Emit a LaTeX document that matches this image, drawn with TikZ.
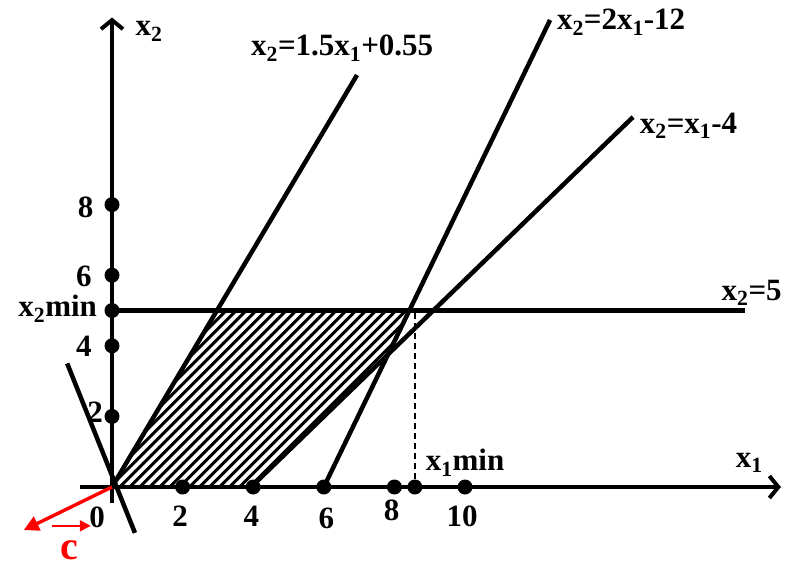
\documentclass[tikz,border=0pt]{standalone}
\usepackage{fontspec}
\setmainfont{Liberation Serif}
\usetikzlibrary{arrows.meta,intersections}
\tikzset{
  gAxis/.style={line width=4pt,-{Straight Barb[length=9pt,width=22pt]}},
  gLine/.style={line width=4.5pt},
  gDash/.style={line width=1.3pt,dash pattern=on 6pt off 4pt},
  gRed/.style={draw=red,line width=3.4pt,-{Triangle[length=15pt,width=15pt]}},
  gDot/.style={circle,fill=black,inner sep=0pt,minimum size=15pt},
  gLbl/.style={font=\fontsize{31}{33}\selectfont\bfseries,inner sep=0pt},
  gHatch/.style={line width=3pt},
}
\newcommand{\xs}[1]{x\textsubscript{#1}}
\begin{document}
\begin{tikzpicture}[x=35.3pt,y=35.3pt]
\useasboundingbox (-3.173,-2.295) rectangle (19.093,13.796);
% end points of the lines
\coordinate (O)  at (0,0);
\coordinate (a1) at (6.94,11.67);
\coordinate (b0) at (6,0);
\coordinate (b1) at (12.41,13.23);
\coordinate (c0) at (3.94,0);
\coordinate (c1) at (14.76,10.48);
\coordinate (h0) at (0,5);
\coordinate (h1) at (17.93,5);
\coordinate (n0) at (-1.27,3.5);
\coordinate (n1) at (0.65,-1.3);
\path[name path=la] (O) -- (a1);
\path[name path=lb] (b0) -- (b1);
\path[name path=lc] (c0) -- (c1);
\path[name path=lh] (h0) -- (h1);
\path[name intersections={of=la and lh,by=pA}];
\path[name intersections={of=lb and lh,by=pB}];
\path[name intersections={of=lb and lc,by=pC}];
% feasible region
\begin{scope}
\clip (O) -- (c0) -- (pC) -- (pB) -- (pA) -- cycle;
\foreach \k in {-20,...,32}
  \draw[gHatch] (\k*0.283,-0.5) -- ++(7,7);
\end{scope}
% axes
\coordinate (xa0) at (-0.9,0);
\coordinate (xa1) at (18.95,0);
\coordinate (ya0) at (0,-0.45);
\coordinate (ya1) at (0,13.3);
\draw[gAxis] (xa0) -- (xa1);
\draw[gAxis] (ya0) -- (ya1);
\node[gLbl] (xl) at (18.05,0.68) {\xs{1}};
\node[gLbl] (yl) at (1.05,12.9) {\xs{2}};
% constraint lines
\draw[gLine] (O) -- (a1);
\draw[gLine] (b0) -- (b1);
\draw[gLine] (c0) -- (c1);
\draw[gLine] (h0) -- (h1);
\draw[gLine] (n0) -- (n1);
\node[gLbl] (la) at (6.52,12.42) {\xs{2}=1.5\xs{1}+0.55};
\node[gLbl,anchor=west] (lb) at (12.6,13.17) {\xs{2}=2\xs{1}-12};
\node[gLbl,anchor=west] (lc) at (14.95,10.23) {\xs{2}=\xs{1}-4};
\node[gLbl] (lh) at (18.12,5.5) {\xs{2}=5};
% optimum
\node[gDot] (dmx) at (8.58,0) {};
\node[gDot] (dmy) at (0,5) {};
\draw[gDash] (dmx) -- (8.58,5);
\node[gLbl] (mx) at (10.0,0.68) {\xs{1}min};
\node[gLbl,anchor=east] (my) at (-0.42,5.06) {\xs{2}min};
% ticks
\node[gDot] (dx2) at (2,0) {};
\node[gDot] (dx4) at (4,0) {};
\node[gDot] (dx6) at (6,0) {};
\node[gDot] (dx8) at (8,0) {};
\node[gDot] (dx10) at (10,0) {};
\node[gDot] (dy2) at (0,2) {};
\node[gDot] (dy4) at (0,4) {};
\node[gDot] (dy6) at (0,6) {};
\node[gDot] (dy8) at (0,8) {};
\node[gLbl] (tx0) at (-0.42,-0.85) {0};
\node[gLbl] (tx2) at (1.93,-0.82) {2};
\node[gLbl] (tx4) at (3.95,-0.82) {4};
\node[gLbl] (tx6) at (6.07,-0.88) {6};
\node[gLbl] (tx8) at (7.92,-0.65) {8};
\node[gLbl] (tx10) at (9.92,-0.82) {10};
\node[gLbl] (ty2) at (-0.48,2.12) {2};
\node[gLbl] (ty4) at (-0.8,4.0) {4};
\node[gLbl] (ty6) at (-0.8,5.97) {6};
\node[gLbl] (ty8) at (-0.75,7.93) {8};
% gradient
\coordinate (g1) at (-2.5,-1.22);
\coordinate (s0) at (-1.7,-1.1);
\coordinate (s1) at (-0.6,-1.1);
\draw[gRed] (O) -- (g1);
\draw[gRed,line width=1.8pt,-{Triangle[length=11pt,width=11pt]}] (s0) -- (s1);
\node[gLbl,text=red,font=\fontsize{40}{42}\selectfont\bfseries,anchor=base] (cl) at (-1.2,-2.06) {c};
\end{tikzpicture}
\end{document}
